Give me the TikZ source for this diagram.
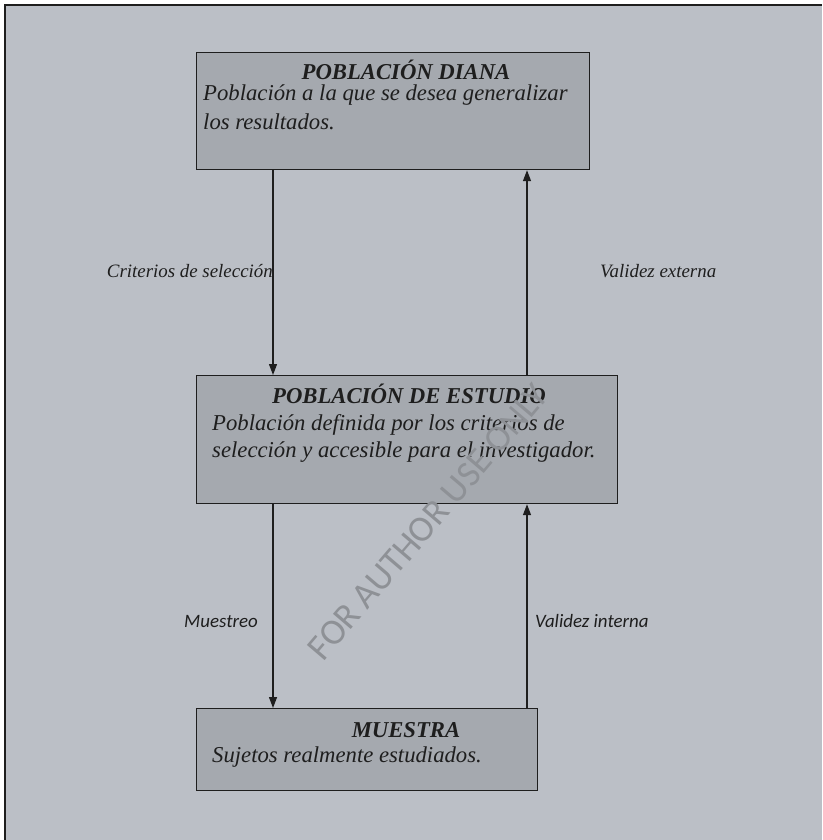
\documentclass[tikz,border=0pt]{standalone}
\usepackage{fontspec}
\setmainfont{Liberation Serif}
\newfontfamily\calfont{Carlito}
\newfontfamily\wmfont{Carlito}
\usetikzlibrary{arrows.meta}
\definecolor{pagebg}{HTML}{BBBFC6}
\definecolor{boxfill}{HTML}{A5A9AF}
\definecolor{inkc}{HTML}{1E1E1E}
\definecolor{wmark}{HTML}{8E9196}
\tikzset{
  box/.style={draw=inkc, line width=1.2pt, fill=boxfill, rectangle, anchor=north west, inner sep=0pt},
  boxtitle/.style={anchor=base, inner sep=0pt, text=inkc, font=\fontsize{22.7}{26}\selectfont\bfseries\itshape},
  boxline/.style={anchor=base west, inner sep=0pt, text=inkc, font=\fontsize{22.7}{27}\selectfont\itshape},
  arr/.style={draw=inkc, line width=1.3pt, -{Triangle[length=11pt,width=8pt]}},
  serlabel/.style={inner sep=0pt, text=inkc, font=\fontsize{18.9}{22}\selectfont\itshape},
  sanslabel/.style={inner sep=0pt, text=inkc, font=\fontsize{18.9}{22}\selectfont\calfont\itshape}
}
\begin{document}
\begin{tikzpicture}[x=1pt,y=-1pt]
  \useasboundingbox (0,0) rectangle (822,840);
  % page background and frame
  \fill[white] (0,0) rectangle (822,840);
  \fill[pagebg] (5,5) rectangle (822,840);
  \draw[inkc, line width=1.6pt] (5,840) -- (5,5) -- (822,5);

  % boxes
  \node[box, minimum width=393pt, minimum height=117pt] (diana) at (196,52) {};
  \node[box, minimum width=421pt, minimum height=128pt] (estudio) at (196,375) {};
  \node[box, minimum width=341pt, minimum height=82pt] (muestra) at (196,708) {};

  % box texts, one node per line
  \node[boxtitle] (t1) at (406,80) {POBLACIÓN DIANA};
  \node[boxline] (b1a) at (203,101) {Población a la que se desea generalizar};
  \node[boxline] (b1b) at (203,129) {los resultados.};
  \node[boxtitle] (t2) at (409,403) {POBLACIÓN DE ESTUDIO};
  \node[boxline] (b2a) at (212,430) {Población definida por los criterios de};
  \node[boxline] (b2b) at (212,457) {selección y accesible para el investigador.};
  \node[boxtitle] (t3) at (406,737) {MUESTRA};
  \node[boxline] (b3) at (212,762) {Sujetos realmente estudiados.};

  % connectors
  \draw[arr] ([xshift=77pt]diana.south west) -- ([xshift=77pt]estudio.north west);
  \draw[arr] ([xshift=331pt]estudio.north west) -- ([xshift=331pt]diana.south west);
  \draw[arr] ([xshift=77pt]estudio.south west) -- ([xshift=77pt]muestra.north west);
  \draw[arr] ([xshift=331pt]muestra.north west) -- ([xshift=331pt]estudio.south west);

  % connector labels
  \node[serlabel, anchor=base east] (l1) at (273,277) {Criterios de selección};
  \node[serlabel, anchor=base west] (l2) at (600,277) {Validez externa};
  \node[sanslabel, anchor=base east] (l3) at (258,627) {Muestreo};
  \node[sanslabel, anchor=base west] (l4) at (535,627) {Validez interna};

  % watermark
  \node[text=wmark, rotate=49.5, inner sep=0pt, font=\fontsize{36.5}{40}\selectfont\wmfont] (wm) at (428,522) {FOR AUTHOR USE ONLY};
\end{tikzpicture}
\end{document}
